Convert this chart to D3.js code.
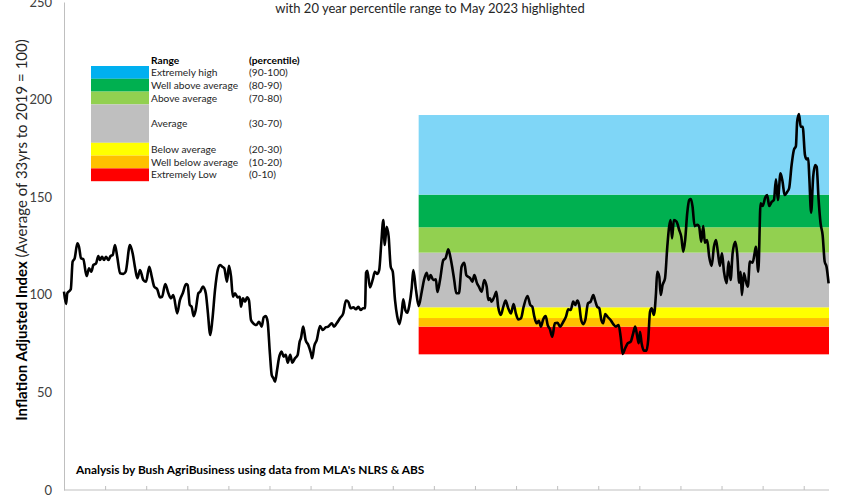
<!DOCTYPE html>
<html>
<head>
<meta charset="utf-8">
<script src="https://cdn.jsdelivr.net/npm/d3@7"></script>
<style>
  html, body { margin: 0; padding: 0; background: #fff; }
  svg { display: block; font-family: Lato, "Open Sans", sans-serif; }
</style>
</head>
<body>
<svg id="chart" width="860" height="500"></svg>
<script>
// ---- data (decimal year, inflation-adjusted index) ----
const years = [
 1986.00,1986.10,1986.16,1986.33,1986.42,1986.52,1986.65,1986.73,1986.83,1986.94,
 1987.10,1987.22,1987.33,1987.43,1987.56,1987.67,1987.75,1987.85,1987.95,1988.04,
 1988.16,1988.27,1988.37,1988.48,1988.59,1988.73,1988.89,1989.00,1989.21,1989.34,
 1989.45,1989.57,1989.70,1989.86,1989.99,1990.15,1990.27,1990.39,1990.54,1990.67,
 1990.77,1990.93,1991.08,1991.21,1991.32,1991.51,1991.64,1991.78,1991.94,1992.02,
 1992.12,1992.21,1992.31,1992.41,1992.54,1992.63,1992.76,1992.90,1992.99,1993.12,
 1993.22,1993.35,1993.48,1993.59,1993.70,1993.80,1993.93,1994.03,1994.13,1994.22,
 1994.32,1994.45,1994.56,1994.61,1994.71,1994.81,1994.91,1995.00,1995.10,1995.21,
 1995.36,1995.49,1995.62,1995.72,1995.82,1995.91,1996.02,1996.11,1996.20,1996.27,
 1996.37,1996.46,1996.59,1996.69,1996.79,1996.89,1997.01,1997.11,1997.24,1997.37,
 1997.47,1997.53,1997.64,1997.76,1997.89,1998.02,1998.08,1998.18,1998.30,1998.46,
 1998.59,1998.75,1998.86,1999.03,1999.14,1999.27,1999.43,1999.59,1999.72,1999.83,
 1999.95,2000.08,2000.21,2000.32,2000.44,2000.56,2000.65,2000.70,2000.76,2000.89,
 2001.02,2001.13,2001.25,2001.34,2001.44,2001.54,2001.61,2001.70,2001.80,2001.90,
 2002.00,2002.11,2002.22,2002.32,2002.43,2002.51,2002.61,2002.71,2002.80,2002.92,
 2003.00,2003.13,2003.26,2003.41,2003.52,2003.65,2003.75,2003.84,2003.97,2004.10,
 2004.17,2004.30,2004.46,2004.57,2004.70,2004.80,2004.89,2004.99,2005.09,2005.22,
 2005.35,2005.48,2005.58,2005.67,2005.77,2005.87,2005.97,2006.10,2006.19,2006.33,
 2006.45,2006.57,2006.65,2006.73,2006.81,2006.94,2007.04,2007.13,2007.26,2007.38,
 2007.49,2007.62,2007.75,2007.88,2007.99,2008.11,2008.24,2008.37,2008.56,2008.69,
 2008.79,2008.89,2009.00,2009.11,2009.21,2009.32,2009.44,2009.54,2009.65,2009.76,
 2009.89,2010.02,2010.14,2010.30,2010.43,2010.54,2010.66,2010.78,2010.88,2010.98,
 2011.07,2011.17,2011.27,2011.37,2011.50,2011.63,2011.76,2011.85,2011.95,2012.05,
 2012.15,2012.24,2012.34,2012.47,2012.60,2012.73,2012.86,2012.99,2013.09,2013.19,
 2013.31,2013.44,2013.58,2013.70,2013.80,2013.90,2013.97,2014.03,2014.11,2014.22,
 2014.35,2014.43,2014.52,2014.60,2014.71,2014.81,2014.87,2014.97,2015.04,2015.13,
 2015.25,2015.36,2015.45,2015.52,2015.59,2015.68,2015.81,2015.94,2016.04,2016.14,
 2016.23,2016.33,2016.43,2016.51,2016.59,2016.69,2016.82,2016.91,2017.01,2017.11,
 2017.19,2017.30,2017.40,2017.52,2017.63,2017.73,2017.82,2017.92,2018.02,2018.12,
 2018.25,2018.34,2018.44,2018.54,2018.67,2018.76,2018.86,2018.93,2018.99,2019.09,
 2019.19,2019.28,2019.38,2019.51,2019.61,2019.67,2019.79,2019.90,2020.00,2020.13,
 2020.22,2020.32,2020.45,2020.55,2020.65,2020.74,2020.87,2020.97,2021.07,2021.20,
 2021.29,2021.41,2021.52,2021.62,2021.68,2021.77,2021.85,2021.95,2022.06,2022.14,
 2022.22,2022.27,2022.36,2022.46,2022.56,2022.63,2022.72,2022.82,2022.92,2023.02,
 2023.11,2023.21
];
const values = [
 101.6,95.3,100.8,102.8,117.0,118.7,126.4,124.6,118.7,118.2,
 109.6,113.6,111.8,115.3,116.1,119.9,117.8,119.5,117.8,119.5,
 117.8,119.9,120.4,125.5,119.5,111.0,110.7,111.8,125.5,121.3,
 114.4,108.5,112.7,107.6,106.7,114.4,109.3,104.2,102.8,98.7,
 99.0,105.5,100.8,98.2,99.9,90.5,97.3,100.8,105.5,105.0,
 94.8,93.9,89.1,92.2,100.8,101.6,104.2,100.8,92.2,79.4,
 87.1,102.5,112.7,115.3,114.4,113.6,106.7,114.8,109.3,99.0,
 100.8,98.7,99.0,93.9,98.2,96.5,98.7,97.3,87.1,85.4,
 84.5,86.2,83.7,88.5,89.1,86.2,70.0,58.9,57.2,55.5,
 61.5,67.5,70.9,68.3,69.2,65.2,69.2,65.2,67.5,69.2,
 76.0,77.7,83.7,76.8,74.3,70.0,67.5,73.8,76.8,84.0,
 82.0,83.4,83.7,85.4,83.7,85.4,88.0,90.5,97.0,96.5,
 93.1,93.6,92.6,93.9,92.2,93.1,93.1,111.3,112.3,103.8,
 107.6,111.8,110.7,112.7,126.4,138.3,125.5,134.9,129.8,114.4,
 111.8,97.3,88.8,85.0,90.5,97.7,92.2,90.8,94.3,103.3,
 112.7,102.5,94.3,101.6,107.6,111.3,107.6,110.1,107.6,107.9,
 101.4,107.6,117.8,118.7,123.3,119.5,114.4,107.6,100.8,100.8,
 114.4,116.4,110.1,109.3,108.5,106.7,110.1,105.9,104.2,101.6,
 107.6,104.2,97.3,98.2,96.5,99.0,101.6,93.9,89.7,93.9,
 97.0,93.1,90.5,95.3,90.5,87.4,88.0,93.9,99.4,94.8,
 93.9,88.8,85.4,86.7,83.7,87.4,89.1,84.5,82.3,78.5,
 85.4,85.7,83.7,86.2,88.8,92.6,92.2,96.5,94.8,97.0,
 94.8,87.1,85.0,87.1,95.6,96.5,99.9,97.0,93.9,93.1,
 87.1,85.4,90.2,88.5,87.1,85.0,83.7,84.5,78.5,69.7,
 72.6,75.2,76.0,80.3,83.7,78.5,75.2,81.1,75.2,71.4,
 71.4,76.8,91.3,93.1,89.7,100.8,111.8,109.3,99.9,105.0,
 108.5,124.6,134.9,138.3,128.9,138.3,137.5,133.2,129.8,122.1,
 128.1,141.8,148.6,149.1,145.1,135.2,135.8,134.9,127.2,135.2,
 126.7,128.1,119.5,114.8,124.6,128.1,122.1,114.8,121.3,111.8,
 105.9,117.0,107.6,121.3,127.2,121.3,106.2,111.8,99.9,111.0,
 106.7,104.2,117.0,116.4,121.3,124.6,111.8,146.9,145.5,149.9,
 151.1,145.5,147.7,148.6,159.2,148.6,162.2,157.9,151.1,152.8,
 154.6,166.5,174.2,176.2,188.7,192.6,186.1,186.1,171.6,169.4,
 169.9,160.5,142.1,160.5,166.5,165.6,149.4,136.6,130.6,117.0,
 114.4,105.9
];

// percentile band boundaries over the 20-year highlight window
const bandLabels = ["Extremely Low","Well below average","Below average","Average","Above average","Well above average","Extremely high"];
const bandRanges = ["(0-10)","(10-20)","(20-30)","(30-70)","(70-80)","(80-90)","(90-100)"];
const bandLow  = [69.5, 83.7, 88.1, 93.6, 121.6, 134.6, 151.3];
const bandHigh = [83.7, 88.1, 93.6, 121.6, 134.6, 151.3, 192.1];
const bandColors = ["#ff0000","#ffc000","#ffff00","#bfbfbf","#92d050","#00b050","#7fd6f7"];
const legendColors = ["#ff0000","#ffc000","#ffff00","#bfbfbf","#92d050","#00b050","#00b0f0"];
const legendRows = [1,1,1,3,1,1,1];
const highlightStart = 2003.26;
const yTicks = [0, 50, 100, 150, 200, 250];
const xTickYears = d3.range(1986, 2023, 2);

const svg = d3.select("#chart");
const x = d3.scaleLinear().domain([1986, 2023.23]).range([64, 829]);
const y = d3.scaleLinear().domain([0, 250]).range([490, 2]);

// bands
svg.append("g").selectAll("rect").data(bandLow).join("rect")
  .attr("x", x(highlightStart))
  .attr("width", x.range()[1] - x(highlightStart))
  .attr("y", (d, i) => y(bandHigh[i]))
  .attr("height", (d, i) => y(d) - y(bandHigh[i]))
  .attr("fill", (d, i) => bandColors[i]);

// axes
const axisColor = "#bfbfbf";
const yAxis = svg.append("g").attr("transform", "translate(64,0)")
  .call(d3.axisLeft(y).tickValues(yTicks).tickSize(0).tickPadding(12));
yAxis.select(".domain").attr("stroke", axisColor);
yAxis.selectAll("text").attr("font-size", 13).attr("fill", "#404040")
  .attr("font-family", "Lato, sans-serif");

const xAxis = svg.append("g").attr("transform", "translate(0,490)")
  .call(d3.axisTop(x).tickValues(xTickYears).tickSize(4).tickFormat(""));
xAxis.select(".domain").attr("stroke", axisColor).attr("d", `M64,0H829`);
xAxis.selectAll(".tick line").attr("stroke", axisColor);

// line
const line = d3.line().x((d, i) => x(years[i])).y(d => y(d)).curve(d3.curveMonotoneX);
svg.append("path").datum(values).attr("d", line)
  .attr("fill", "none").attr("stroke", "#000").attr("stroke-width", 2.6)
  .attr("stroke-linejoin", "round");

// title
svg.append("text").attr("x", 430).attr("y", 13).attr("text-anchor", "middle")
  .attr("font-size", 13).attr("fill", "#262626")
  .text("with 20 year percentile range to May 2023 highlighted");

// y label
const yl = svg.append("text").attr("transform", "translate(27,230) rotate(-90)")
  .attr("text-anchor", "middle").attr("font-size", 15).attr("fill", "#000");
yl.append("tspan").attr("font-weight", "bold").text("Inflation Adjusted Index ");
yl.append("tspan").attr("fill", "#262626").text("(Average of 33yrs to 2019 = 100)");

// source note
svg.append("text").attr("x", 76).attr("y", 474).attr("font-size", 11.9)
  .attr("font-weight", "bold").attr("fill", "#000")
  .text("Analysis by Bush AgriBusiness using data from MLA's NLRS & ABS");

// legend
const lg = svg.append("g");
const rowH = 12.8, lx = 91, ly = 66, boxW = 58, fs = 10.2;
lg.append("text").attr("x", 151).attr("y", 63.5).attr("font-size", fs)
  .attr("font-weight", "bold").attr("fill", "#000").text("Range");
lg.append("text").attr("x", 249).attr("y", 63.5).attr("font-size", fs)
  .attr("font-weight", "bold").attr("fill", "#000").text("(percentile)");
let cum = 0;
const order = d3.range(bandLabels.length).reverse();
order.forEach(i => {
  const top = ly + cum * rowH, h = legendRows[i] * rowH;
  lg.append("rect").attr("x", lx).attr("y", top).attr("width", boxW).attr("height", h)
    .attr("fill", legendColors[i]);
  const cy = top + h / 2 + 3.5;
  lg.append("text").attr("x", 151).attr("y", cy).attr("font-size", fs)
    .attr("fill", "#262626").text(bandLabels[i]);
  lg.append("text").attr("x", 249).attr("y", cy).attr("font-size", fs)
    .attr("fill", "#262626").text(bandRanges[i]);
  cum += legendRows[i];
});
</script>
</body>
</html>
